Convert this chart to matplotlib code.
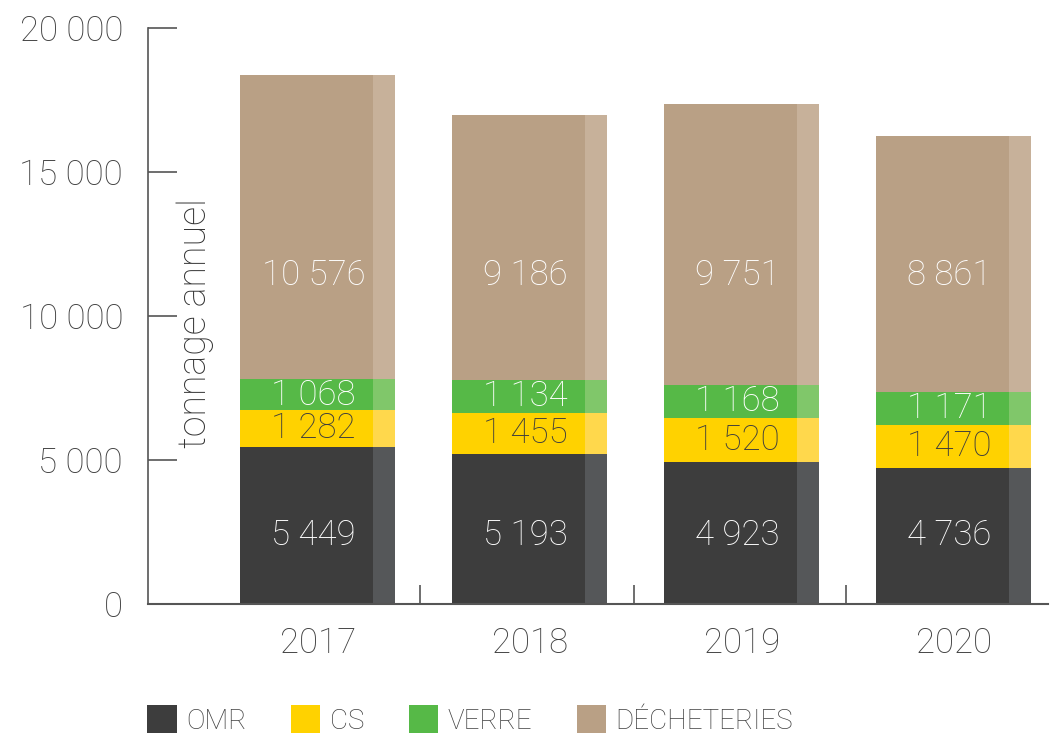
import matplotlib.pyplot as plt

plt.rcParams['font.family'] = ['Roboto', 'DejaVu Sans']
plt.rcParams['font.weight'] = 'light'

years = ['2017', '2018', '2019', '2020']
omr = [5449, 5193, 4923, 4736]
cs = [1282, 1455, 1520, 1470]
verre = [1068, 1134, 1168, 1171]
decheteries = [10576, 9186, 9751, 8861]

# name, values, colour, lighter strip colour, label colour, fixed label height (None = centred)
series = [
    ('OMR', omr, '#3d3d3d', '#555759', 'white', 2400),
    ('CS', cs, '#ffd200', '#ffd84c', '#3d3d3d', None),
    ('VERRE', verre, '#56b947', '#80c76a', 'white', None),
    ('DÉCHETERIES', decheteries, '#b9a085', '#c7b19a', 'white', 11420),
]

def fmt(v):
    return f'{int(v):,}'.replace(',', ' ')

fig = plt.figure(figsize=(10.5, 7.33), dpi=100)
ax = fig.add_axes([148 / 1050, 1 - 604 / 733, 900 / 1050, 576 / 733])

x = list(range(len(years)))
width = 0.73
strip = 0.105
bottom = [0] * len(years)
for name, vals, col, light, tcol, ylab in series:
    # main part of the bar, then a lighter strip on its right side
    ax.bar([i - strip / 2 for i in x], vals, width - strip, bottom=bottom,
           color=col, linewidth=0, label=name)
    ax.bar([i + width / 2 - strip / 2 for i in x], vals, strip, bottom=bottom,
           color=light, linewidth=0)
    for i, v in enumerate(vals):
        yy = ylab if ylab is not None else bottom[i] + v / 2
        ax.text(i - 0.02, yy, fmt(v), ha='center', va='center',
                color=tcol, fontsize=25, fontweight='light')
    bottom = [b + v for b, v in zip(bottom, vals)]

ax.set_xlim(-0.8, 3.445)
ax.set_ylim(0, 20000)
ax.set_yticks([0, 5000, 10000, 15000, 20000])
ax.set_yticklabels([fmt(v) for v in [0, 5000, 10000, 15000, 20000]])
ax.tick_params(axis='y', direction='in', length=21, width=1.2, color='#555555',
               labelsize=25, labelcolor='#404040', pad=18)
ax.set_xticks([0.485, 1.49, 2.49])
ax.set_xticklabels([])
ax.tick_params(axis='x', direction='in', length=14, width=1.2, color='#555555')
for i, y in enumerate(years):
    ax.text(i, -1370, y, ha='center', va='center', fontsize=25,
            color='#404040', fontweight='light')

for s in ['top', 'right']:
    ax.spines[s].set_visible(False)
ax.spines['left'].set_color('#555555')
ax.spines['bottom'].set_color('#555555')
ax.spines['left'].set_linewidth(1.2)
ax.spines['bottom'].set_linewidth(1.5)

ax.text(-0.575, 9750, 'tonnage annuel', rotation=90, ha='center', va='center',
        fontsize=27, color='#333333', fontweight='light')

leg = fig.legend(loc='center left', bbox_to_anchor=(128 / 1050, 1 - 720 / 733), ncol=4,
                 frameon=False, fontsize=20, handlelength=1.05, handleheight=1.15,
                 columnspacing=1.6, handletextpad=0.35, borderpad=0.2)
for t in leg.get_texts():
    t.set_color('#404040')

fig.savefig('out.png', dpi=100)
